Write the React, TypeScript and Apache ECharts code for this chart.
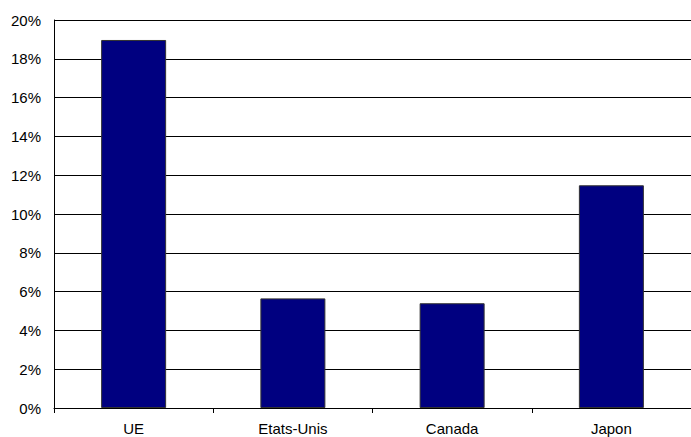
import React, { useEffect, useRef } from "react";
import * as echarts from "echarts";

const categories = ["UE", "Etats-Unis", "Canada", "Japon"];
const values = [18.97, 5.65, 5.4, 11.48];
const yTicks = [0, 2, 4, 6, 8, 10, 12, 14, 16, 18, 20];

export default function App() {
  const ref = useRef<HTMLDivElement>(null);
  useEffect(() => {
    if (!ref.current) return;
    const chart = echarts.init(ref.current, undefined, { renderer: "svg" });
    chart.setOption({
      animation: false,
      backgroundColor: "#ffffff",
      grid: { left: 54, top: 20, width: 648, height: 388, containLabel: false },
      xAxis: {
        type: "category",
        data: categories,
        boundaryGap: true,
        axisLine: { show: true, lineStyle: { color: "#000", width: 1 } },
        axisTick: { show: true, length: 5, inside: false, lineStyle: { color: "#000" } },
        axisLabel: {
          color: "#000",
          fontFamily: "Liberation Sans, Arial, sans-serif",
          fontSize: 15,
          margin: 13,
        },
        splitLine: { show: false },
      },
      yAxis: {
        type: "value",
        min: yTicks[0],
        max: yTicks[yTicks.length - 1],
        interval: 2,
        axisLine: { show: true, lineStyle: { color: "#000", width: 1 } },
        axisTick: { show: false },
        axisLabel: {
          color: "#000",
          fontFamily: "Liberation Sans, Arial, sans-serif",
          fontSize: 15,
          margin: 13,
          formatter: (v: number) => `${v}%`,
        },
        splitLine: { show: true, lineStyle: { color: "#000", width: 1 } },
      },
      series: [
        {
          type: "bar",
          data: values,
          barWidth: 65,
          itemStyle: { color: "#000080", borderColor: "#333333", borderWidth: 1 },
        },
      ],
    });
    return () => chart.dispose();
  }, []);
  return (
    <div
      ref={ref}
      style={{ position: "fixed", left: 0, top: 0, width: 691, height: 437 }}
    />
  );
}
